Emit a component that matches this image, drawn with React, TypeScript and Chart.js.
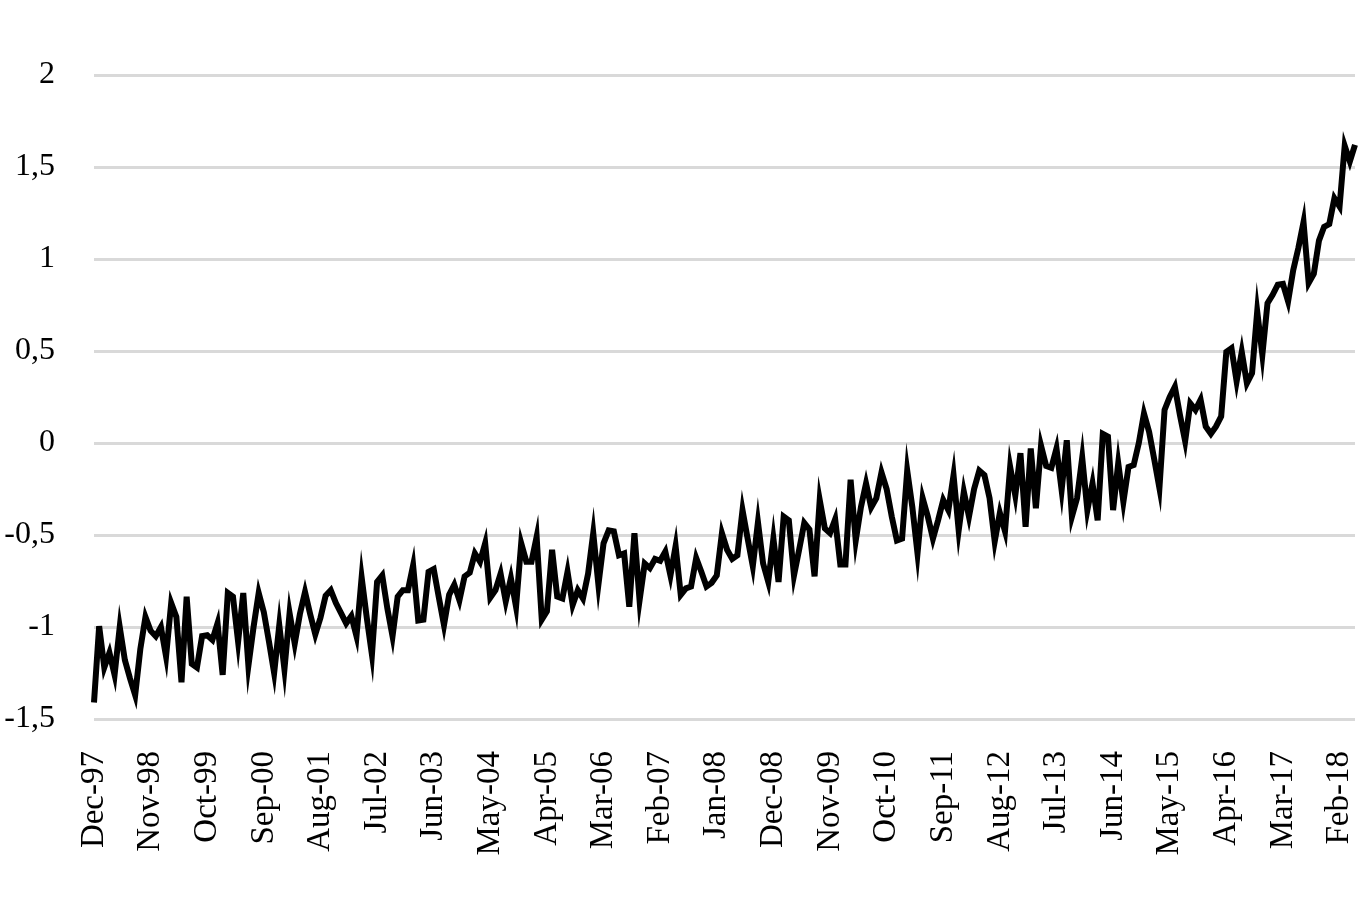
import { useEffect, useRef } from 'react';
import { Chart, registerables } from 'chart.js';

Chart.register(...registerables);

const monthNames = ['Jan', 'Feb', 'Mar', 'Apr', 'May', 'Jun', 'Jul', 'Aug', 'Sep', 'Oct', 'Nov', 'Dec'];
const startYear = 1997;
const startMonth = 11; // December

// monthly index values, Dec-97 .. Jul-18
const values = [
  -1.41, -0.995, -1.22, -1.14, -1.26, -1.0, -1.18, -1.28, -1.37, -1.12,
  -0.945, -1.02, -1.05, -1.0, -1.16, -0.87, -0.945, -1.3, -0.835, -1.2,
  -1.22, -1.05, -1.045, -1.07, -0.98, -1.26, -0.815, -0.835, -1.08, -0.815,
  -1.21, -1.0, -0.815, -0.92, -1.08, -1.25, -0.99, -1.23, -0.925, -1.09,
  -0.93, -0.81, -0.93, -1.04, -0.95, -0.83, -0.8, -0.87, -0.925, -0.98,
  -0.94, -1.05, -0.73, -0.95, -1.15, -0.755, -0.72, -0.9, -1.05, -0.835,
  -0.8, -0.8, -0.665, -0.965, -0.96, -0.7, -0.685, -0.84, -0.99, -0.825,
  -0.77, -0.855, -0.725, -0.705, -0.6, -0.645, -0.545, -0.84, -0.8, -0.71,
  -0.86, -0.735, -0.89, -0.545, -0.645, -0.645, -0.51, -0.96, -0.915, -0.58,
  -0.835, -0.845, -0.7, -0.88, -0.8, -0.845, -0.71, -0.49, -0.77, -0.545,
  -0.475, -0.48, -0.61, -0.6, -0.89, -0.49, -0.855, -0.655, -0.68, -0.63,
  -0.64, -0.59, -0.72, -0.56, -0.825, -0.79, -0.78, -0.625, -0.7, -0.78,
  -0.76, -0.72, -0.49, -0.58, -0.63, -0.61, -0.365, -0.52, -0.67, -0.43,
  -0.655, -0.755, -0.52, -0.755, -0.4, -0.42, -0.72, -0.58, -0.435, -0.47,
  -0.725, -0.31, -0.465, -0.49, -0.415, -0.66, -0.66, -0.2, -0.53, -0.35,
  -0.22, -0.35, -0.3, -0.16, -0.25, -0.4, -0.53, -0.52, -0.15, -0.35,
  -0.6, -0.3, -0.4, -0.52, -0.42, -0.31, -0.365, -0.175, -0.475, -0.265,
  -0.4, -0.25, -0.15, -0.175, -0.3, -0.535, -0.38, -0.48, -0.13, -0.285,
  -0.055, -0.455, -0.03, -0.355, -0.015, -0.125, -0.135, -0.03, -0.255, 0.015,
  -0.4, -0.3, -0.08, -0.365, -0.22, -0.42, 0.05, 0.035, -0.365, -0.11,
  -0.32, -0.13, -0.12, 0.0, 0.16, 0.06, -0.09, -0.245, 0.18, 0.25,
  0.305, 0.15, 0.01, 0.215, 0.18, 0.235, 0.09, 0.05, 0.09, 0.145,
  0.495, 0.515, 0.335, 0.495, 0.325, 0.38, 0.715, 0.48, 0.76, 0.805,
  0.86, 0.865, 0.77, 0.94, 1.06, 1.2, 0.87, 0.92, 1.1, 1.175,
  1.19, 1.33, 1.285, 1.615, 1.53, 1.62,
];

// one category per month
const labels = values.map((_, i) => {
  const m = (startMonth + i) % 12;
  const y = startYear + Math.floor((startMonth + i) / 12);
  return `${monthNames[m]}-${String(y % 100).padStart(2, '0')}`;
});

const labelEvery = 11;
const yMin = -1.5;
const yMax = 2;
const yStep = 0.5;

export default function App() {
  const canvasRef = useRef<HTMLCanvasElement | null>(null);

  useEffect(() => {
    if (!canvasRef.current) return;
    const family = '"Liberation Serif", "Times New Roman", serif';

    const chart = new Chart(canvasRef.current, {
      type: 'line',
      data: {
        labels,
        datasets: [
          {
            data: values,
            borderColor: '#000000',
            borderWidth: 6,
            pointRadius: 0,
            tension: 0,
            fill: false,
          },
        ],
      },
      options: {
        animation: false,
        responsive: true,
        maintainAspectRatio: false,
        layout: { padding: { top: 75, right: 3, left: 0, bottom: 0 } },
        plugins: { legend: { display: false }, tooltip: { enabled: false } },
        scales: {
          x: {
            type: 'category',
            offset: false,
            grid: { display: false },
            border: { display: false },
            ticks: {
              autoSkip: false,
              maxRotation: 90,
              minRotation: 90,
              padding: 24,
              color: '#000000',
              font: { family, size: 33 },
              callback: (_v: any, i: number) => (i % labelEvery === 0 ? labels[i] : ''),
            },
            afterFit: (scale: any) => {
              scale.height = 184;
              scale.paddingLeft = 0;
              scale.paddingRight = 0;
            },
          },
          y: {
            min: yMin,
            max: yMax,
            grid: { color: '#d9d9d9', lineWidth: 3, drawTicks: false },
            border: { display: false },
            ticks: {
              stepSize: yStep,
              padding: 39,
              color: '#000000',
              font: { family, size: 32 },
              callback: (v: any) => String(Number(v)).replace('.', ','),
            },
            afterFit: (scale: any) => {
              scale.width = 94;
            },
          },
        },
      },
    });

    return () => chart.destroy();
  }, []);

  return (
    <div style={{ position: 'fixed', left: 0, top: 0, width: 1358, height: 903, background: '#ffffff' }}>
      <canvas ref={canvasRef} />
    </div>
  );
}
